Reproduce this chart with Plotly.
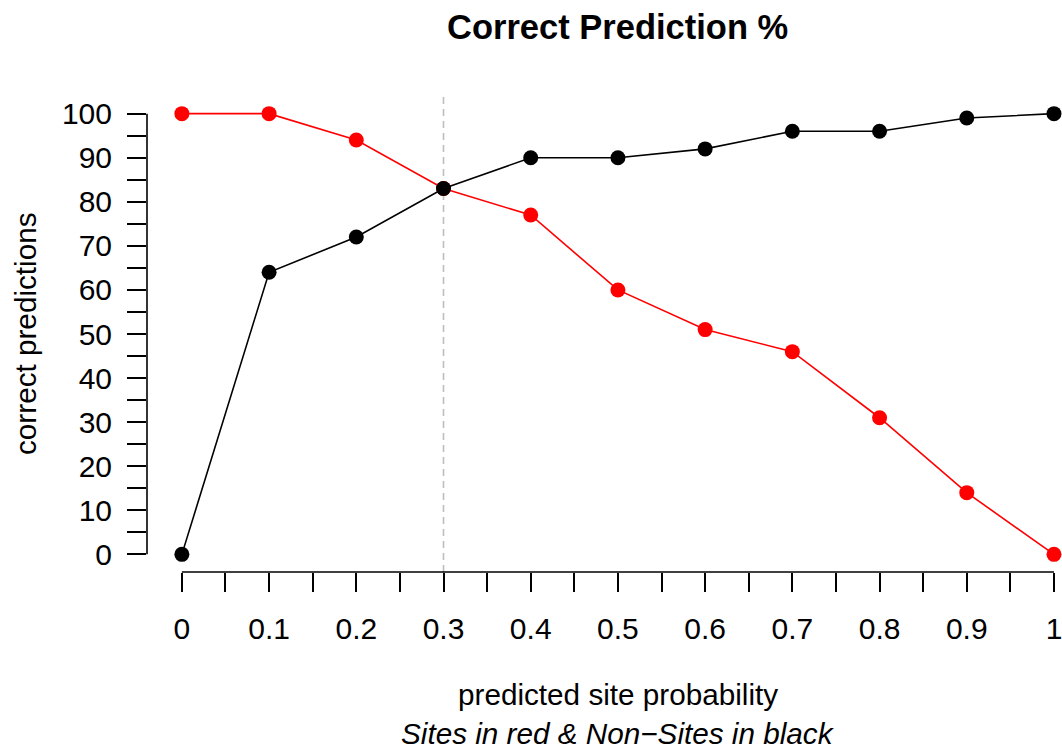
import plotly.graph_objects as go

# Threshold on predicted site probability
thresholds = [0, 0.1, 0.2, 0.3, 0.4, 0.5, 0.6, 0.7, 0.8, 0.9, 1.0]
# Percent of true sites predicted correctly
sites_correct = [100, 100, 94, 83, 77, 60, 51, 46, 31, 14, 0]
# Percent of non-sites predicted correctly
nonsites_correct = [0, 64, 72, 83, 90, 90, 92, 96, 96, 99, 100]
cutoff = 0.3

x_tickvals = [i / 20 for i in range(21)]
x_ticktext = [("0" if v == 0 else ("1" if v == 1 else f"{v:.1f}")) if i % 2 == 0 else ""
              for i, v in enumerate(x_tickvals)]
y_tickvals = list(range(0, 101, 5))
y_ticktext = [str(v) if v % 10 == 0 else "" for v in y_tickvals]

FONT = "Liberation Sans, Arial, Helvetica, sans-serif"
FS = 30

fig = go.Figure()

fig.add_trace(go.Scatter(
    x=thresholds, y=sites_correct, mode="lines+markers",
    line=dict(color="#FF0000", width=1.6),
    marker=dict(color="#FF0000", size=15),
    showlegend=False,
))
fig.add_trace(go.Scatter(
    x=thresholds, y=nonsites_correct, mode="lines+markers",
    line=dict(color="#000000", width=1.6),
    marker=dict(color="#000000", size=15),
    showlegend=False,
))

# cutoff marker line
fig.add_shape(type="line", xref="x", yref="paper", x0=cutoff, x1=cutoff, y0=0, y1=1,
              line=dict(color="#BEBEBE", width=1.6, dash="7px,5px"), layer="below")

# axis lines spanning only the tick range
fig.add_shape(type="line", xref="x", yref="paper", x0=thresholds[0], x1=thresholds[-1], y0=0, y1=0,
              line=dict(color="black", width=1.6))
fig.add_shape(type="line", xref="paper", yref="y", x0=0, x1=0, y0=0, y1=100,
              line=dict(color="black", width=1.6))

fig.update_xaxes(
    range=[-0.04, 1.0092], showgrid=False, zeroline=False, showline=False,
    tickmode="array", tickvals=x_tickvals, ticktext=x_ticktext,
    ticks="outside", ticklen=19, tickwidth=1.6, tickcolor="black",
    ticklabelstandoff=11, ticklabeloverflow="allow",
    tickfont=dict(family=FONT, size=FS, color="black"),
)
fig.update_yaxes(
    range=[-4, 104], showgrid=False, zeroline=False, showline=False,
    tickmode="array", tickvals=y_tickvals, ticktext=y_ticktext,
    ticks="outside", ticklen=19, tickwidth=1.6, tickcolor="black",
    ticklabelstandoff=9,
    tickfont=dict(family=FONT, size=FS, color="black"),
)

annotations = [
    dict(text="<b>Correct Prediction %</b>", xref="x", yref="paper", x=0.5, y=1,
         yshift=69, showarrow=False, xanchor="center", yanchor="middle",
         font=dict(family=FONT, size=34.5, color="black")),
    dict(text="predicted site probability", xref="x", yref="paper", x=0.5, y=0,
         yshift=-122, showarrow=False, xanchor="center", yanchor="middle",
         font=dict(family=FONT, size=29.7, color="black")),
    dict(text="<i>Sites in red &amp; Non\u2212Sites in black</i>", xref="x", yref="paper", x=0.5, y=0,
         yshift=-161, showarrow=False, xanchor="center", yanchor="middle",
         font=dict(family=FONT, size=29.7, color="black")),
    dict(text="correct predictions", xref="paper", yref="paper", x=0, y=0.5,
         xshift=-122, showarrow=False, xanchor="center", yanchor="middle", textangle=-90,
         font=dict(family=FONT, size=29.7, color="black")),
]

fig.update_layout(
    width=1062, height=749,
    margin=dict(l=147, r=0, t=96, b=177),
    paper_bgcolor="white", plot_bgcolor="white",
    annotations=annotations,
)

fig.write_html("out.html")
